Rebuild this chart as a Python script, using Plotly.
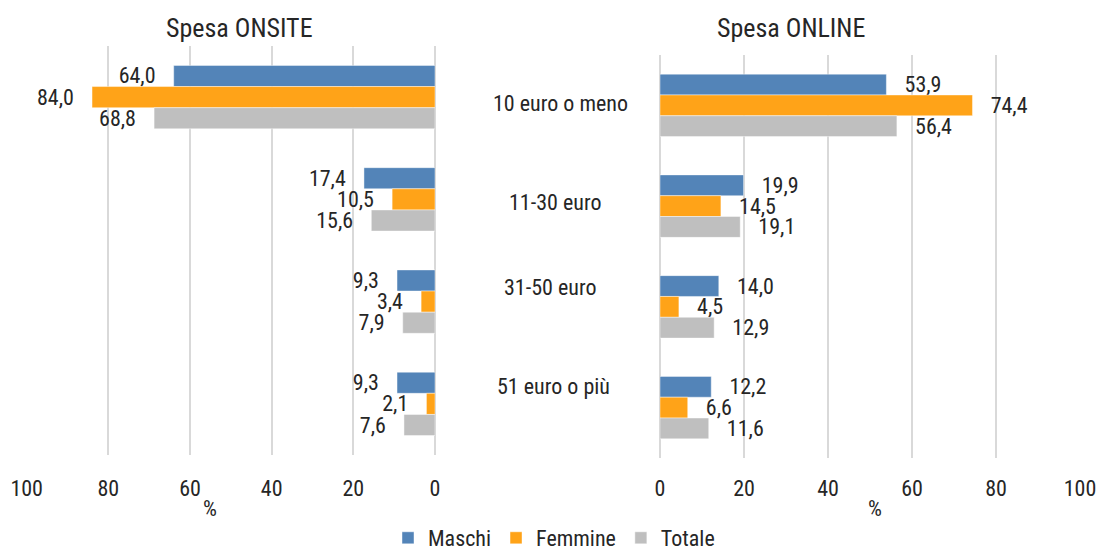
import plotly.graph_objects as go

# Spending brackets (top to bottom) and series values, in %
categories = ["10 euro o meno", "11-30 euro", "31-50 euro", "51 euro o più"]
series_names = ["Maschi", "Femmine", "Totale"]

onsite_maschi = [64.0, 17.4, 9.3, 9.3]
onsite_femmine = [84.0, 10.5, 3.4, 2.1]
onsite_totale = [68.8, 15.6, 7.9, 7.6]

online_maschi = [53.9, 19.9, 14.0, 12.2]
online_femmine = [74.4, 14.5, 4.5, 6.6]
online_totale = [56.4, 19.1, 12.9, 11.6]

x_ticks = [0, 20, 40, 60, 80, 100]
panel_titles = ["Spesa ONSITE", "Spesa ONLINE"]
axis_unit = "%"

colors = ["#5384B8", "#FFA318", "#BFBFBF"]
FONT = ("Liberation Sans Narrow, Roboto Condensed, DejaVu Sans Condensed, "
        "Arial Narrow, Liberation Sans, sans-serif")
TXT = "#262626"
GRID = "#D9D9D9"
NBSP = "\u00a0"

W, H = 1098, 551
T, B = 46, 93
PH = H - T - B  # plot-area height in pixels

onsite = [onsite_maschi, onsite_femmine, onsite_totale]
online = [online_maschi, online_femmine, online_totale]

fig = go.Figure()

for name, vals, col in zip(series_names, onsite, colors):
    fig.add_trace(go.Bar(
        name=name, x=vals, y=categories, orientation="h",
        xaxis="x", yaxis="y", legendgroup=name,
        marker=dict(color=col, line=dict(color="rgba(255,255,255,0.55)", width=0.8)),
        texttemplate="%{x:.1f}" + NBSP * 3, textposition="outside",
        constraintext="none", cliponaxis=False,
        textfont=dict(family=FONT, size=22, color=TXT),
        hoverinfo="skip",
    ))

for name, vals, col in zip(series_names, online, colors):
    fig.add_trace(go.Bar(
        name=name, x=vals, y=categories, orientation="h",
        xaxis="x2", yaxis="y2", legendgroup=name, showlegend=False,
        marker=dict(color=col, line=dict(color="rgba(255,255,255,0.55)", width=0.8)),
        texttemplate=NBSP * 3 + "%{x:.1f}", textposition="outside",
        constraintext="none", cliponaxis=False,
        textfont=dict(family=FONT, size=22, color=TXT),
        hoverinfo="skip",
    ))

axis_common = dict(
    tickvals=x_ticks, showgrid=True, gridcolor=GRID, gridwidth=1.5,
    zeroline=True, zerolinecolor=GRID, zerolinewidth=1.5,
    showline=False, ticks="", fixedrange=True, automargin=False,
    tickfont=dict(family=FONT, size=22, color=TXT),
)
yaxis_common = dict(
    type="category", categoryarray=categories, autorange="reversed",
    showticklabels=False, showgrid=False, zeroline=False, showline=False,
    fixedrange=True, automargin=False,
)

fig.update_layout(
    template="none",
    width=W, height=H,
    margin=dict(l=0, r=0, t=T, b=B, pad=0, autoexpand=False),
    paper_bgcolor="white", plot_bgcolor="white",
    separators=",.",
    barmode="group", bargap=0.38, bargroupgap=0,
    font=dict(family=FONT, size=22, color=TXT),
    xaxis=dict(domain=[26.7 / W, 435 / W], range=[100, 0], anchor="y",
               ticklabelstandoff=18, **axis_common),
    xaxis2=dict(domain=[660 / W, 1080 / W], range=[0, 100], anchor="y2",
                ticklabelstandoff=15, **axis_common),
    yaxis=dict(domain=[(H - B - 455) / PH, 1.0], anchor="x", **yaxis_common),
    yaxis2=dict(domain=[0.0, (H - B - 55) / PH], anchor="x2", **yaxis_common),
    legend=dict(orientation="h", x=554 / W, xanchor="center",
                xref="container", yref="container", y=(H - 538) / H,
                yanchor="middle", font=dict(family=FONT, size=22, color=TXT),
                itemwidth=30, tracegroupgap=0, bgcolor="rgba(0,0,0,0)",
                borderwidth=0),
    showlegend=True,
)

annotations = []
# Panel titles, centred above each panel
for title, xc in zip(panel_titles, [239, 791]):
    annotations.append(dict(text=title, x=xc / W, y=1 + (T - 28) / PH,
                            xref="paper", yref="paper",
                            xanchor="center", yanchor="middle", showarrow=False,
                            font=dict(family=FONT, size=26, color=TXT)))
# Unit labels under each x axis
for xc in [210, 875]:
    annotations.append(dict(text=axis_unit, x=xc / W, y=-(508 - (H - B)) / PH,
                            xref="paper", yref="paper",
                            xanchor="center", yanchor="middle", showarrow=False,
                            font=dict(family=FONT, size=22, color=TXT)))
# Category labels between the two panels
label_x = [560, 555, 550, 553]
label_shift = [2, 4, 19, 21]
for cat, lx, ys in zip(categories, label_x, label_shift):
    annotations.append(dict(text=cat, x=lx / W, y=cat, xref="paper", yref="y2",
                            xanchor="center", yanchor="middle", yshift=ys,
                            showarrow=False,
                            font=dict(family=FONT, size=22, color=TXT)))

fig.update_layout(annotations=annotations)

fig.write_html("out.html")
